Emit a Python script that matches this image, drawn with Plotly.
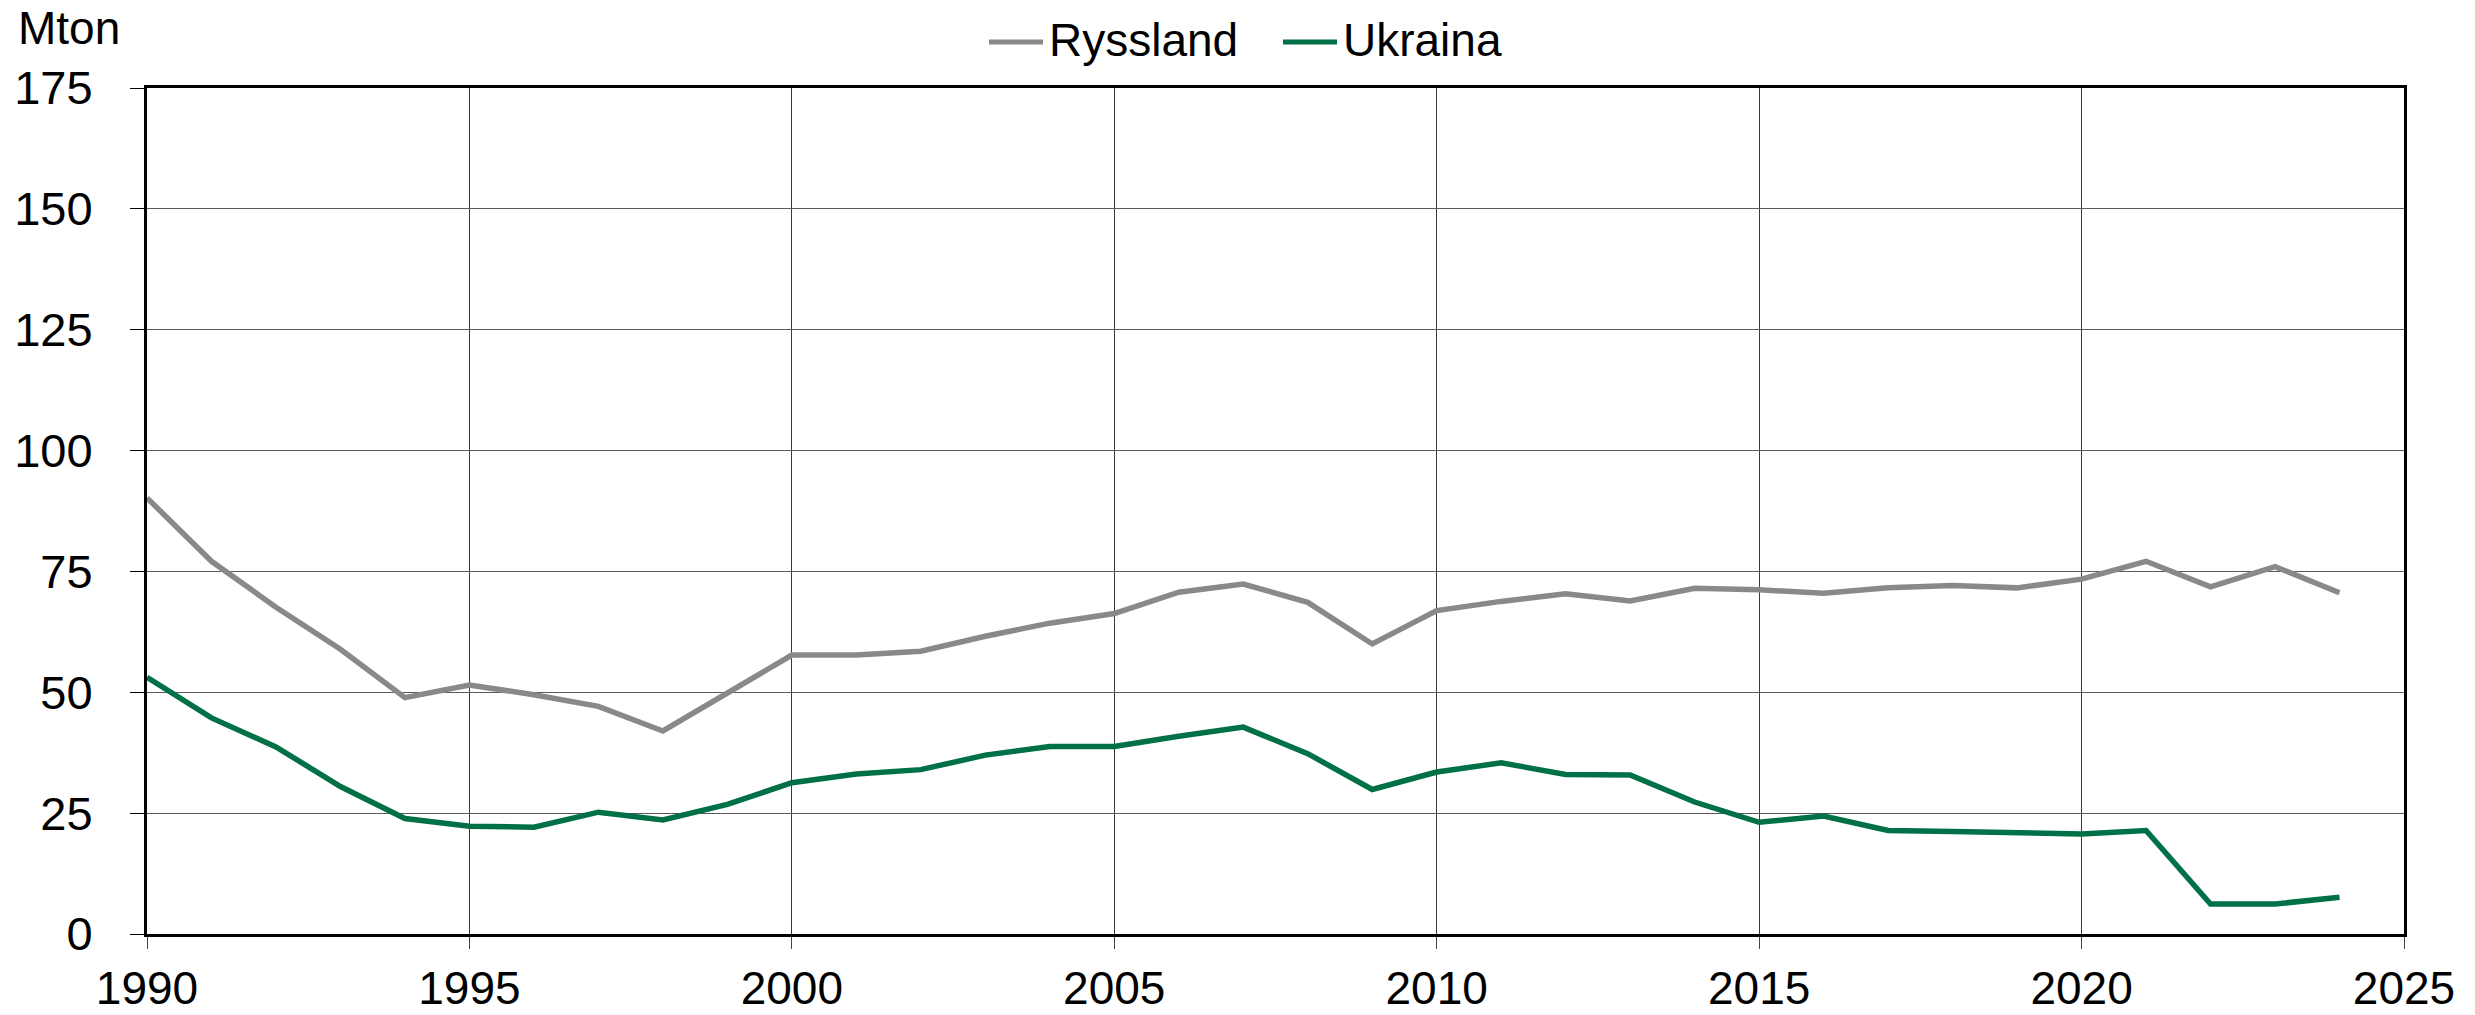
import plotly.graph_objects as go

years = list(range(1990, 2025))
ryssland = [90.2, 77.1, 67.6, 58.9, 48.9, 51.5, 49.5, 47.1, 42.0, 49.8,
            57.7, 57.7, 58.5, 61.6, 64.3, 66.3, 70.7, 72.4, 68.6, 60.0,
            66.9, 68.8, 70.4, 68.9, 71.5, 71.2, 70.5, 71.6, 72.1, 71.6,
            73.4, 77.1, 71.8, 76.0, 70.6]
ukraina = [53.1, 44.7, 38.7, 30.5, 23.9, 22.3, 22.1, 25.2, 23.6, 26.8,
           31.3, 33.1, 34.0, 37.0, 38.8, 38.8, 40.9, 42.8, 37.3, 29.9,
           33.5, 35.4, 33.0, 32.9, 27.3, 23.1, 24.4, 21.4, 21.2, 20.9,
           20.7, 21.4, 6.2, 6.2, 7.6]
series_names = ["Ryssland", "Ukraina"]
series_colors = ["#898989", "#007046"]
x_ticks = [1990, 1995, 2000, 2005, 2010, 2015, 2020, 2025]
y_ticks = [0, 25, 50, 75, 100, 125, 150, 175]

FONT = "Liberation Sans, Arial, sans-serif"
W, H = 2475, 1015
L, R, T, B = 147, 71, 88, 81
PW, PH = W - L - R, H - T - B


def px_x(px):
    return (px - L) / PW


def px_y(py):
    return 1 + (T - py) / PH


fig = go.Figure()
for name, vals, col in zip(series_names, [ryssland, ukraina], series_colors):
    fig.add_trace(go.Scatter(x=years, y=vals, mode="lines", name=name,
                             line=dict(color=col, width=5.5), showlegend=False))

# manual legend (positions in pixels of the page)
legend_items = [(989, 1043, 1047), (1283, 1337, 1341)]
shapes = []
annotations = []
for (x0, x1, tx), name, col in zip(legend_items, series_names, series_colors):
    shapes.append(dict(type="line", xref="paper", yref="paper",
                       x0=px_x(x0), x1=px_x(x1), y0=px_y(42), y1=px_y(42),
                       line=dict(color=col, width=5)))
    annotations.append(dict(text=name, xref="paper", yref="paper", x=px_x(tx), y=px_y(40),
                            xanchor="left", yanchor="middle", showarrow=False,
                            font=dict(size=46)))
annotations.append(dict(text="Mton", xref="paper", yref="paper", x=px_x(16), y=px_y(28),
                        xanchor="left", yanchor="middle", showarrow=False,
                        font=dict(size=46)))

fig.update_layout(
    width=W, height=H,
    margin=dict(l=L, r=R, t=T, b=B, autoexpand=False),
    paper_bgcolor="white", plot_bgcolor="white",
    font=dict(family=FONT, size=47, color="black"),
    showlegend=False,
    shapes=shapes,
    annotations=annotations,
)
fig.update_xaxes(range=[1990, 2025], tickvals=x_ticks, ticktext=[str(v) for v in x_ticks],
                 tickfont=dict(size=46),
                 showgrid=True, gridcolor="#3a3a3a", gridwidth=1,
                 showline=True, linecolor="black", linewidth=3, mirror=True,
                 ticks="outside", ticklen=12, tickcolor="#444444", tickwidth=1,
                 ticklabelstandoff=0, zeroline=False, automargin=False)
fig.update_yaxes(range=[0, 175], tickvals=y_ticks, ticktext=[str(v) for v in y_ticks],
                 showgrid=True, gridcolor="#5a5a5a", gridwidth=1.3,
                 showline=True, linecolor="black", linewidth=3, mirror=True,
                 ticks="outside", ticklen=14, tickcolor="black", tickwidth=1,
                 ticklabelstandoff=28, zeroline=False, automargin=False)

fig.write_html("out.html", config={"displayModeBar": False},
               post_script="document.body.style.margin='0';document.body.style.overflow='hidden';")
